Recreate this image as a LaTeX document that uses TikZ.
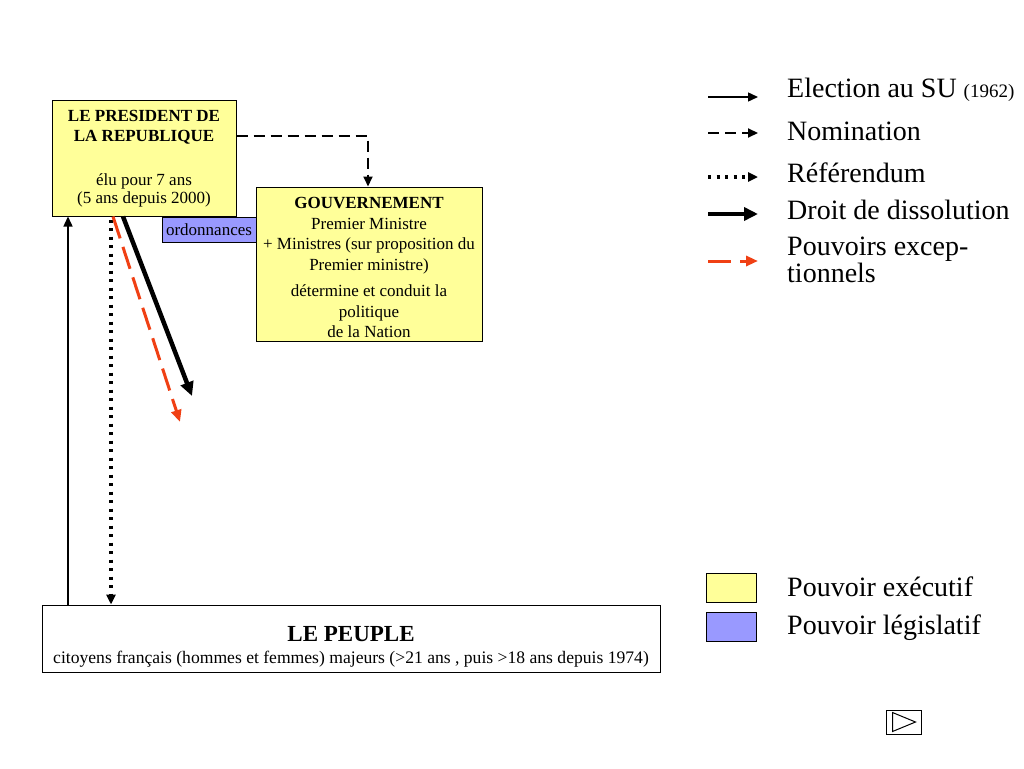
\documentclass[tikz,border=0pt]{standalone}
\usepackage{fontspec}
\setmainfont{Liberation Serif}
\usetikzlibrary{arrows.meta}
\definecolor{execyellow}{RGB}{255,255,153}
\definecolor{legisblue}{RGB}{153,153,255}
\definecolor{exred}{RGB}{240,64,20}
\begin{document}
\begin{tikzpicture}[x=1pt, y=-1pt,
    box/.style={draw, line width=1pt, inner sep=0pt},
    exec/.style={box, fill=execyellow},
    legis/.style={box, fill=legisblue},
    txt/.style={inner sep=0pt, align=center, font=\fontsize{17}{20.5}\selectfont},
    leg/.style={inner sep=0pt, anchor=west, align=left, font=\fontsize{28}{27}\selectfont},
    tip/.style={-{Triangle[length=10pt, width=9pt]}},
    election/.style={tip, line width=1.4pt},
    nomination/.style={tip, line width=2pt, dash pattern=on 11pt off 6pt},
    referendum/.style={tip, line width=3.6pt, dash pattern=on 3pt off 5.5pt},
    dissolution/.style={-{Triangle[length=14pt, width=13pt]}, line width=4.5pt},
    exceptionnel/.style={-{Triangle[length=12pt, width=10pt]}, exred, line width=3pt, dash pattern=on 23pt off 9pt}
  ]

    \fill[white] (0,0) rectangle (1024,768);
    \useasboundingbox (0,0) rectangle (1024,768);

    % boxes
    \node (pres) [exec, minimum width=184, minimum height=116] at (144,158) {};
    \node (gouv) [exec, minimum width=226, minimum height=154] at (369,264) {};
    \node (ordo) [legis, minimum width=94, minimum height=25, font=\fontsize{17}{18}\selectfont] at (209,229.5) {ordonnances};
    \node (peuple) [box, fill=white, minimum width=618, minimum height=67] at (351,638.5) {};

    % texts
    \node (prestitle) [txt, font=\bfseries\fontsize{17}{20}\selectfont] at (144,127) {LE PRESIDENT DE\\LA REPUBLIQUE};
    \node (presmandat) [txt, font=\fontsize{17}{18}\selectfont] at (144,190) {élu pour 7 ans\\(5 ans depuis 2000)};
    \node (gouvtext) [txt] at (369,267.5) {\textbf{GOUVERNEMENT}\\Premier Ministre\\+ Ministres (sur proposition du\\Premier ministre)\\[6pt]détermine et conduit la\\politique\\de la Nation};
    \node (peupletitle) [txt, font=\bfseries\fontsize{23}{24}\selectfont] at (351,634) {LE PEUPLE};
    \node (peupletext) [txt, font=\fontsize{17.6}{18}\selectfont] at (351,659) {citoyens français (hommes et femmes) majeurs (>21 ans , puis >18 ans depuis 1974)};

    % connectors
    \coordinate (xelec) at (68,0);
    \coordinate (xref) at (111,0);
    \coordinate (xnom) at (368,0);
    \coordinate (dissend) at (192,396);
    \coordinate (excend) at (180,422);
    \draw[election] (peuple.north -| xelec) -- (pres.south -| xelec);
    \draw[referendum] ([yshift=-3pt]pres.south -| xref) -- (peuple.north -| xref);
    \draw[nomination] (pres.east |- 0,136) -| (gouv.north -| xnom);
    \draw[exceptionnel] ([xshift=-31pt]pres.south) -- (excend);
    \draw[dissolution] ([xshift=-21pt]pres.south) -- (dissend);

    % legend
    \node (lelec) [leg] at (787,90) {Election au SU {\fontsize{19}{20}\selectfont(1962)}};
    \node (lnom) [leg] at (787,131) {Nomination};
    \node (lref) [leg] at (787,173) {Référendum};
    \node (ldiss) [leg] at (787,210) {Droit de dissolution};
    \node (lexc) [leg] at (787,259.5) {Pouvoirs excep-\\tionnels};
    \foreach \name/\y/\sty in {elec/97/election, nom/133/nomination, ref/177/referendum, diss/214/dissolution, exc/261/exceptionnel}
      \draw[\sty] (708,\y) -- (758,\y);

    \node (kexec) [exec, minimum width=50, minimum height=29] at (731,587.5) {};
    \node (klegis) [legis, minimum width=50, minimum height=29] at (731,626.5) {};
    \node (lexec) [leg] at (787,587) {Pouvoir exécutif};
    \node (llegis) [leg] at (787,628) {Pouvoir législatif};

    % next button
    \node (next) [draw, line width=1pt, minimum width=35, minimum height=24] at (903.5,722) {};
    \draw[line width=1pt] ([xshift=7pt, yshift=-3pt]next.north west) -- ([xshift=-6pt]next.east) -- ([xshift=7pt, yshift=3pt]next.south west) -- cycle;
\end{tikzpicture}
\end{document}
